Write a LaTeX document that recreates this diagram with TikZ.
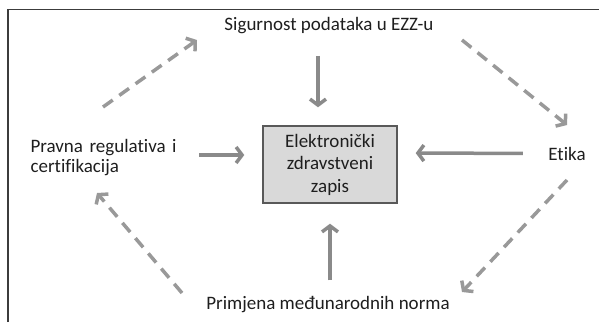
\documentclass[tikz,border=0pt]{standalone}
\usepackage{fontspec}
\setmainfont{Carlito}[Ligatures=NoCommon]
\usetikzlibrary{arrows.meta}
\definecolor{boxgrey}{HTML}{D9D9D9}
\definecolor{arrgrey}{HTML}{8A8A8A}
\definecolor{dashgrey}{HTML}{999999}
\definecolor{txtgrey}{HTML}{1E1E1E}
\definecolor{framegrey}{HTML}{3C3C3C}

\begin{document}
\begin{tikzpicture}[x=1pt,y=-1pt,
    every node/.style={font=\fontsize{19}{22.5}\selectfont, text=txtgrey},
    recordbox/.style={draw=framegrey!85, line width=1.4pt, fill=boxgrey,
      minimum width=134pt, minimum height=77pt, align=center, inner sep=0pt},
    solidarr/.style={draw=arrgrey, line width=3.5pt,
      -{Straight Barb[length=6pt,width=16pt]}},
    dasharr/.style={solidarr, draw=dashgrey, dash pattern=on 12pt off 8pt}]

  \useasboundingbox (0,0) rectangle (599,322);

  % frame, cut off at the right and at the bottom
  \draw[framegrey, line width=1.5pt] (8,322) -- (8,9.5) -- (599,9.5);

  % the record in the middle
  \node[recordbox] (ezz) at (330,164.5) {Elektronički\\zdravstveni\\zapis};

  % the four fields round it
  \node[anchor=base] (sig) at (329,30) {Sigurnost podataka u EZZ-u};
  \node[anchor=base] (etika) at (567,160) {Etika};
  \node[anchor=base] (norma) at (328,309) {Primjena međunarodnih norma};
  \node[anchor=west, align=left, font=\fontsize{19}{20}\selectfont]
    (pravna) at (27,157.5)
    {\spaceskip=6.5pt\relax Pravna regulativa i\\certifikacija};

  % influence on the record
  \draw[solidarr, shorten <=19pt, shorten >=18pt]
    ([xshift=-11pt]sig.south) -- ([xshift=-12pt]ezz.north);
  \draw[solidarr, shorten <=22pt, shorten >=18pt]
    (etika.west) -- ([yshift=11.5pt]ezz.east);
  \draw[solidarr, shorten <=12pt, shorten >=20pt]
    ([xshift=2pt]norma.north) -- (ezz.south);
  \draw[solidarr, shorten <=19pt, shorten >=18pt]
    ([yshift=2.5pt]pravna.east) -- ([yshift=9.5pt]ezz.west);

  % the cycle between the fields
  \coordinate (pr1) at (103,107);
  \coordinate (pr2) at (197,40);
  \coordinate (sg1) at (462,40);
  \coordinate (sg2) at (567,125);
  \coordinate (et1) at (567,180);
  \coordinate (et2) at (462,292);
  \coordinate (nm1) at (182,293);
  \coordinate (nm2) at (97,193);
  \draw[dasharr] (pr1) -- (pr2);
  \draw[dasharr] (sg1) -- (sg2);
  \draw[dasharr] (et1) -- (et2);
  \draw[dasharr] (nm1) -- (nm2);
\end{tikzpicture}
\end{document}
